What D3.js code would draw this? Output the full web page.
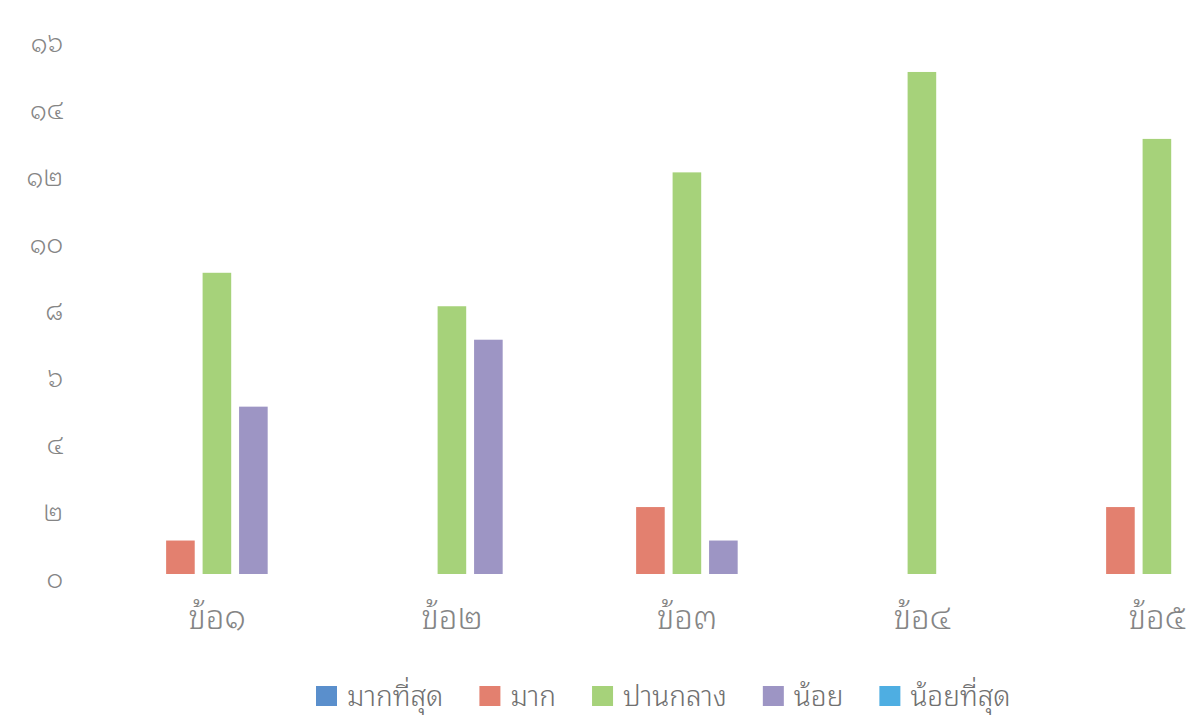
<!DOCTYPE html>
<html>
<head>
<meta charset="utf-8">
<script src="https://cdn.jsdelivr.net/npm/d3@7"></script>
<style>
  html, body { margin: 0; padding: 0; background: #ffffff; }
  svg { display: block; font-family: "Noto Sans Thai Looped", "Loma", "Garuda", "Noto Sans Thai", "Noto Sans", sans-serif; }
</style>
</head>
<body>
<svg id="chart" width="1191" height="720"></svg>
<script>
const categories = ["ข้อ๑", "ข้อ๒", "ข้อ๓", "ข้อ๔", "ข้อ๕"];
const seriesNames = ["มากที่สุด", "มาก", "ปานกลาง", "น้อย", "น้อยที่สุด"];
const seriesColors = ["#5a8fcc", "#e3806f", "#a6d27a", "#9d95c4", "#4eaee2"];
const mostValues = [0, 0, 0, 0, 0];
const muchValues = [1, 0, 2, 0, 2];
const mediumValues = [9, 8, 12, 15, 13];
const littleValues = [5, 7, 1, 0, 0];
const leastValues = [0, 0, 0, 0, 0];
const yTickValues = [0, 2, 4, 6, 8, 10, 12, 14, 16];
const yTickLabels = ["๐", "๒", "๔", "๖", "๘", "๑๐", "๑๒", "๑๔", "๑๖"];

const seriesValues = [mostValues, muchValues, mediumValues, littleValues, leastValues];
const fontStack = "\"Noto Sans Thai Looped\", \"Loma\", \"Garuda\", \"Noto Sans Thai\", \"Noto Sans\", sans-serif";

const svg = d3.select("#chart");

const x0 = d3.scaleBand().domain(categories).range([99.4, 1274.4])
  .paddingInner(0.2574).paddingOuter(0.1287);
const x1 = d3.scaleBand().domain(seriesNames).range([0, x0.bandwidth()])
  .paddingInner(0.216).paddingOuter(0);
const y = d3.scaleLinear().domain([0, 16]).range([574, 38.5]);

// Y axis labels (no line, no ticks)
const yAxis = d3.axisLeft(y).tickValues(yTickValues)
  .tickFormat((d, i) => yTickLabels[i]).tickSize(0).tickPadding(0);
const yG = svg.append("g").attr("transform", "translate(63,0)").call(yAxis);
yG.select(".domain").remove();
yG.selectAll("text")
  .attr("fill", "#858585")
  .style("font-size", "26px")
  .style("font-weight", "300")
  .style("font-family", fontStack)
  .attr("dy", "0.5em");

// Bars
const groups = svg.append("g").selectAll("g")
  .data(categories)
  .join("g")
  .attr("transform", d => `translate(${x0(d)},0)`);

groups.selectAll("rect")
  .data((c, ci) => seriesNames.map((s, si) => ({ s, si, v: seriesValues[si][ci] })))
  .join("rect")
  .filter(d => d.v > 0)
  .attr("x", d => x1(d.s))
  .attr("width", x1.bandwidth())
  .attr("y", d => y(d.v))
  .attr("height", d => y(0) - y(d.v))
  .attr("fill", d => seriesColors[d.si]);

// X axis labels
const xAxis = d3.axisBottom(x0).tickSize(0).tickPadding(0);
const xG = svg.append("g").attr("transform", "translate(0,629)").call(xAxis);
xG.select(".domain").remove();
xG.selectAll("text")
  .attr("fill", "#858585")
  .attr("dy", 0)
  .style("font-size", "33px")
  .style("font-weight", "300")
  .style("font-family", fontStack);

// Legend
const legend = svg.append("g").attr("transform", "translate(316,0)");
let lx = 0;
seriesNames.forEach((name, i) => {
  const g = legend.append("g").attr("transform", `translate(${lx},0)`);
  g.append("rect").attr("x", 0).attr("y", 686).attr("width", 21).attr("height", 20)
    .attr("fill", seriesColors[i]);
  const t = g.append("text").attr("x", 31).attr("y", 706)
    .attr("fill", "#707070").style("font-size", "28px").style("font-weight", "300").text(name);
  const w = t.node().getComputedTextLength();
  lx += 31 + w + 36;
});
</script>
</body>
</html>
